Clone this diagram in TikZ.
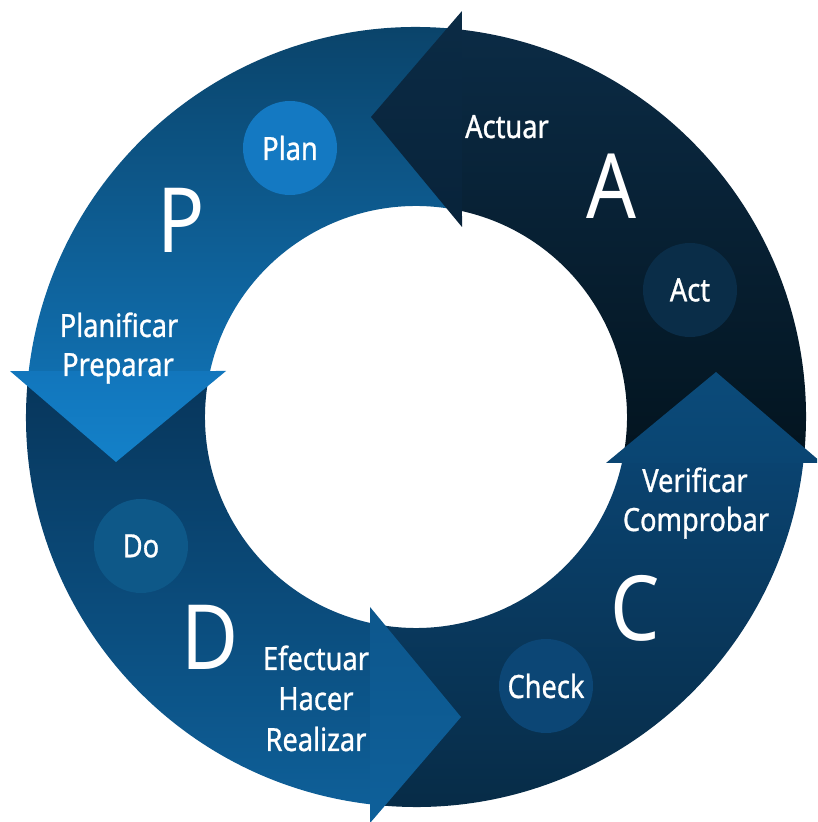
\documentclass[tikz,border=0pt]{standalone}
\usepackage{fontspec}
\setmainfont{Noto Sans}[FakeStretch=0.87]
\newfontfamily\lblfont{Noto Sans}[FakeStretch=0.85, FakeBold=0.9]
\definecolor{aTop}{HTML}{0B2B45}
\definecolor{aBot}{HTML}{03141F}
\definecolor{pTop}{HTML}{0A4166}
\definecolor{pBot}{HTML}{106EAE}
\definecolor{dTop}{HTML}{07355A}
\definecolor{dBot}{HTML}{0E5F98}
\definecolor{cTop}{HTML}{0A4370}
\definecolor{cBot}{HTML}{072A44}
\definecolor{aHT}{HTML}{0B2B45}
\definecolor{aHB}{HTML}{08233A}
\definecolor{pHT}{HTML}{1276BC}
\definecolor{pHB}{HTML}{1381C9}
\definecolor{dHT}{HTML}{0D578D}
\definecolor{dHB}{HTML}{0E609A}
\definecolor{cHT}{HTML}{0B4B7A}
\definecolor{cHB}{HTML}{0A4572}
\definecolor{planC}{HTML}{1479C2}
\definecolor{actC}{HTML}{0A2D48}
\definecolor{doC}{HTML}{0E5888}
\definecolor{checkC}{HTML}{0C4675}
\begin{document}
\begin{tikzpicture}[x=1pt,y=1pt,
  lbl/.style={text=white, font=\lblfont\fontsize{32}{38}\selectfont, anchor=base, inner sep=0pt},
  bigletter/.style={text=white, font=\fontsize{90}{90}\selectfont, anchor=base, inner sep=0pt},
  dot/.style={circle, minimum size=94pt, inner sep=0pt, text=white, font=\lblfont\fontsize{32}{38}\selectfont}]
\fill[white] (0,0) rectangle (817,822);
\useasboundingbox (0,0) rectangle (817,822);
\clip (0,0) rectangle (817,822);
\begin{scope}[shift={(416,405)}]
  \foreach \t/\tc/\bc in {0/aTop/aBot, 90/pTop/pBot, 180/dTop/dBot, 270/cTop/cBot} {
    \shade[top color=\tc, bottom color=\bc]
      (\t-6.77:390) arc[start angle=\t-6.77, end angle=\t+83.23, radius=390]
      -- (\t+77.41:211) arc[start angle=\t+77.41, end angle=\t-12.59, radius=211] -- cycle;
  }
  \foreach \t/\tc/\bc in {0/aHT/aHB, 90/pHT/pHB, 180/dHT/dHB, 270/cHT/cHB} {
    \shade[top color=\tc, bottom color=\bc]
      (\t+83.54:408.6) -- (\t+98.53:303.4) -- (\t+76.39:195.5) -- cycle;
  }
\end{scope}
% circles
\node[dot, fill=planC]  (plan)  at (290, 822-148) {Plan};
\node[dot, fill=actC]   (act)   at (690, 822-290) {Act};
\node[dot, fill=doC]    (do)    at (141, 822-546) {Do};
\node[dot, fill=checkC] (check) at (546, 822-686) {Check};
% big letters
\node[bigletter] (P) at (181, 822-253) {P};
\node[bigletter] (A) at (612, 822-219) {A};
\node[bigletter] (C) at (635, 822-641) {C};
\node[bigletter] (D) at (210, 822-670) {D};
% labels
\node[lbl] (actuar) at (507, 822-138) {Actuar};
\node[lbl] (planif) at (119, 822-337) {Planificar};
\node[lbl] (prep)   at (118, 822-376) {Preparar};
\node[lbl] (verif)  at (695, 822-492) {Verificar};
\node[lbl] (compr)  at (696, 822-531) {Comprobar};
\node[lbl] (efec)   at (316, 822-670) {Efectuar};
\node[lbl] (hacer)  at (316, 822-710) {Hacer};
\node[lbl] (realiz) at (316, 822-751) {Realizar};
\end{tikzpicture}
\end{document}
